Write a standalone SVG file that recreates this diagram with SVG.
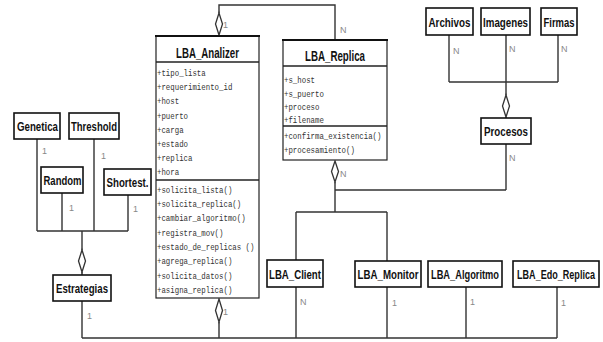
<svg xmlns="http://www.w3.org/2000/svg" width="603" height="342" viewBox="0 0 603 342">
  <style>
    .box { fill: #fff; stroke: #111; stroke-width: 1.6; }
    .cls { fill: #fff; stroke: #222; stroke-width: 1.2; }
    .bar { stroke: #111; stroke-width: 2.2; }
    .sep { stroke: #222; stroke-width: 1.6; }
    .name { font-family: "Liberation Sans", Arial, sans-serif; font-weight: bold; font-size: 13.5px; fill: #111; text-anchor: middle; }
    .title { font-family: "Liberation Sans", Arial, sans-serif; font-weight: bold; font-size: 14.5px; fill: #111; text-anchor: middle; }
    .mem { font-family: "Liberation Mono", "Courier New", monospace; font-size: 8.5px; fill: #333; }
    .lbl { font-family: "Liberation Sans", Arial, sans-serif; font-size: 9px; fill: #888; }
    .ln { fill: none; stroke: #333; stroke-width: 1.4; }
    .dia { fill: #fff; stroke: #333; stroke-width: 1.3; }
  </style>

  <rect width="603" height="342" fill="#fff"/>

  <!-- connectors -->
  <g id="connectors">
    <!-- strategies -->
    <path class="ln" d="M37 139V231M94 139V231M62 193V231M128 195V231M37 231H128M82 231V250M82 272V275M82 301V338"/>
    <polygon class="dia" points="82,250 85.5,261 82,272 78.5,261"/>
    <!-- bottom bus -->
    <path class="ln" d="M82 338H557M219 322V338M296 287V338M387 287V338M466 287V338M557 287V338"/>
    <!-- analizer / replica top link -->
    <path class="ln" d="M219 13V5H335V40"/>
    <polygon class="dia" points="219,13 222.5,24 219,35 215.5,24"/>
    <polygon class="dia" points="219,299 222.5,310.5 219,322 215.5,310.5"/>
    <!-- replica to client/monitor and procesos -->
    <polygon class="dia" points="335,161 338.5,171.5 335,182 331.5,171.5"/>
    <path class="ln" d="M335 182V212M296 212H387M296 212V260M387 212V261M335 190H506M506 144V190"/>
    <!-- procesos parts -->
    <path class="ln" d="M449 35V82M558 35V82M449 82H558M506 35V95"/>
    <polygon class="dia" points="506,95 509.5,106 506,117 502.5,106"/>
    <path class="ln" d="M506 117V118"/>
  </g>

  <!-- multiplicities -->
  <g id="labels">
    <text class="lbl" x="223" y="28">1</text>
    <text class="lbl" x="340" y="33">N</text>
    <text class="lbl" x="340" y="177">N</text>
    <text class="lbl" x="223" y="315">1</text>
    <text class="lbl" x="42" y="154">1</text>
    <text class="lbl" x="101" y="159">1</text>
    <text class="lbl" x="69" y="211">1</text>
    <text class="lbl" x="133" y="212">1</text>
    <text class="lbl" x="87" y="319">1</text>
    <text class="lbl" x="453" y="54">N</text>
    <text class="lbl" x="509" y="52">N</text>
    <text class="lbl" x="561" y="52">N</text>
    <text class="lbl" x="509" y="161">N</text>
    <text class="lbl" x="300" y="305">N</text>
    <text class="lbl" x="392" y="306">1</text>
    <text class="lbl" x="470" y="305">1</text>
    <text class="lbl" x="561" y="306">1</text>
  </g>

  <!-- LBA_Analizer class -->
  <g id="LBA_Analizer">
    <rect class="cls" x="156" y="36" width="103" height="262"/>
    <line class="bar" x1="155" y1="36" x2="260" y2="36"/>
    <line class="sep" x1="156" y1="62" x2="259" y2="62"/>
    <line class="sep" x1="156" y1="180" x2="259" y2="180"/>
    <text class="title" x="207.5" y="58" textLength="63" lengthAdjust="spacingAndGlyphs">LBA_Analizer</text>
    <g transform="translate(157,0) scale(0.87,1)">
      <text class="mem" x="0" y="76">+tipo_lista</text>
      <text class="mem" x="0" y="90">+requerimiento_id</text>
      <text class="mem" x="0" y="104">+host</text>
      <text class="mem" x="0" y="119">+puerto</text>
      <text class="mem" x="0" y="133">+carga</text>
      <text class="mem" x="0" y="147">+estado</text>
      <text class="mem" x="0" y="161">+replica</text>
      <text class="mem" x="0" y="175">+hora</text>
      <text class="mem" x="0" y="193">+solicita_lista()</text>
      <text class="mem" x="0" y="207">+solicita_replica()</text>
      <text class="mem" x="0" y="221">+cambiar_algoritmo()</text>
      <text class="mem" x="0" y="236">+registra_mov()</text>
      <text class="mem" x="0" y="250">+estado_de_replicas ()</text>
      <text class="mem" x="0" y="264">+agrega_replica()</text>
      <text class="mem" x="0" y="279">+solicita_datos()</text>
      <text class="mem" x="0" y="293">+asigna_replica()</text>
    </g>
  </g>

  <!-- LBA_Replica class -->
  <g id="LBA_Replica">
    <rect class="cls" x="283" y="40" width="104" height="120"/>
    <line class="bar" x1="282" y1="40" x2="388" y2="40"/>
    <line class="sep" x1="283" y1="66" x2="387" y2="66"/>
    <line class="sep" x1="283" y1="126" x2="387" y2="126"/>
    <text class="title" x="335" y="61" textLength="60" lengthAdjust="spacingAndGlyphs">LBA_Replica</text>
    <g transform="translate(284,0) scale(0.87,1)">
      <text class="mem" x="0" y="83">+s_host</text>
      <text class="mem" x="0" y="97">+s_puerto</text>
      <text class="mem" x="0" y="110">+proceso</text>
      <text class="mem" x="0" y="123">+filename</text>
      <text class="mem" x="0" y="139">+confirma_existencia()</text>
      <text class="mem" x="0" y="153">+procesamiento()</text>
    </g>
  </g>

  <!-- simple classes -->
  <g id="Genetica">
    <rect class="box" x="14" y="113" width="46" height="26"/>
    <text class="name" x="37.5" y="131" textLength="41" lengthAdjust="spacingAndGlyphs">Genetica</text>
  </g>
  <g id="Threshold">
    <rect class="box" x="69" y="113" width="50" height="26"/>
    <text class="name" x="94" y="131" textLength="46" lengthAdjust="spacingAndGlyphs">Threshold</text>
  </g>
  <g id="Random">
    <rect class="box" x="41" y="167" width="42" height="26"/>
    <text class="name" x="62.5" y="185" textLength="38" lengthAdjust="spacingAndGlyphs">Random</text>
  </g>
  <g id="Shortest">
    <rect class="box" x="104" y="169" width="47" height="26"/>
    <text class="name" x="127.5" y="187" textLength="42" lengthAdjust="spacingAndGlyphs">Shortest.</text>
  </g>
  <g id="Estrategias">
    <rect class="box" x="53" y="275" width="58" height="26"/>
    <text class="name" x="82" y="293" textLength="52" lengthAdjust="spacingAndGlyphs">Estrategias</text>
  </g>
  <g id="Archivos">
    <rect class="box" x="426" y="8" width="47" height="27"/>
    <text class="name" x="449.5" y="26.5" textLength="42" lengthAdjust="spacingAndGlyphs">Archivos</text>
  </g>
  <g id="Imagenes">
    <rect class="box" x="481" y="8" width="49" height="27"/>
    <text class="name" x="505.5" y="26.5" textLength="45" lengthAdjust="spacingAndGlyphs">Imagenes</text>
  </g>
  <g id="Firmas">
    <rect class="box" x="541" y="8" width="36" height="27"/>
    <text class="name" x="559" y="26.5" textLength="31" lengthAdjust="spacingAndGlyphs">Firmas</text>
  </g>
  <g id="Procesos">
    <rect class="box" x="481" y="118" width="50" height="26"/>
    <text class="name" x="506" y="136" textLength="44" lengthAdjust="spacingAndGlyphs">Procesos</text>
  </g>
  <!-- bottom row: names condensed with a horizontal scale -->
  <g id="LBA_Client">
    <rect class="box" x="267" y="260" width="56" height="27"/>
    <text class="name" transform="translate(295,279) scale(0.715,1)">LBA_Client</text>
  </g>
  <g id="LBA_Monitor">
    <rect class="box" x="355" y="261" width="66" height="26"/>
    <text class="name" transform="translate(388,279) scale(0.72,1)">LBA_Monitor</text>
  </g>
  <g id="LBA_Algoritmo">
    <rect class="box" x="428" y="261" width="74" height="26"/>
    <text class="name" transform="translate(465,279) scale(0.687,1)">LBA_Algoritmo</text>
  </g>
  <g id="LBA_Edo_Replica">
    <rect class="box" x="513" y="261" width="86" height="26"/>
    <text class="name" transform="translate(556,279) scale(0.671,1)">LBA_Edo_Replica</text>
  </g>
</svg>
